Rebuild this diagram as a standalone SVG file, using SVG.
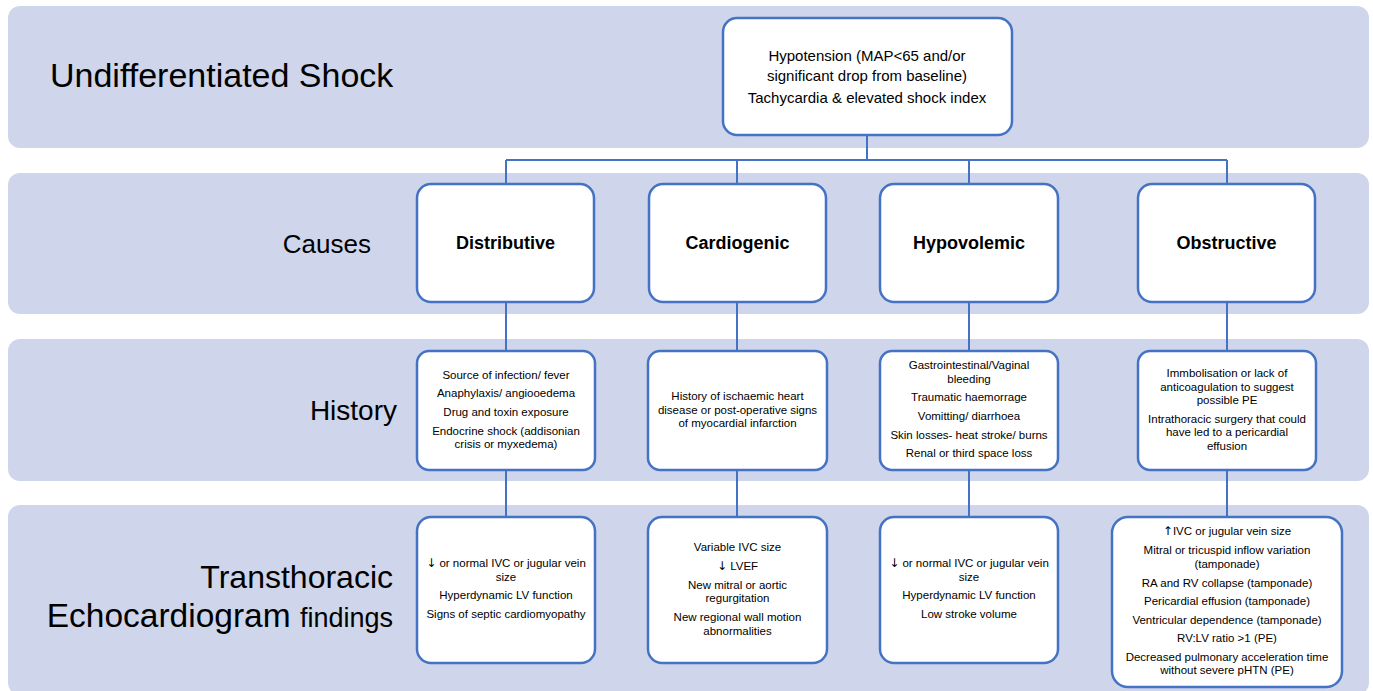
<svg xmlns="http://www.w3.org/2000/svg" width="1373" height="691" viewBox="0 0 1373 691">
<style>
.band{fill:#CFD5EA;}
.box{fill:#FFFFFF;stroke:#4472C4;stroke-width:2.5;}
.con{fill:none;stroke:#4472C4;stroke-width:2;}
.t{font-family:"Liberation Sans",Arial,sans-serif;fill:#000;text-anchor:middle;}
.s{font-size:11.5px;}
.m{font-size:15px;}
.b{font-size:18px;font-weight:bold;}
.ar{font-family:"DejaVu Sans",sans-serif;font-size:12px;}
.row{font-family:"Liberation Sans",Arial,sans-serif;fill:#000;}
</style>
<rect width="1373" height="691" fill="#FFFFFF"/>
<g id="bands">
<rect class="band" x="8" y="6" width="1361" height="142" rx="12"/>
<rect class="band" x="8" y="173" width="1361" height="141" rx="12"/>
<rect class="band" x="8" y="339" width="1361" height="142" rx="12"/>
<rect class="band" x="8" y="505" width="1361" height="190" rx="12"/>
</g>
<g id="row-labels">
<text class="row" x="50" y="87" font-size="34">Undifferentiated Shock</text>
<text class="row" x="371" y="253" font-size="26" text-anchor="end">Causes</text>
<text class="row" x="397" y="420" font-size="28" text-anchor="end">History</text>
<text class="row" x="393" y="588" font-size="32" text-anchor="end">Transthoracic</text>
<text class="row" x="393" y="627" font-size="33.5" text-anchor="end">Echocardiogram <tspan font-size="27">findings</tspan></text>
</g>
<g id="connectors">
<path class="con" d="M867 135 V160 M506 160 H1227 M506 160 V184 M737 160 V184 M969 160 V184 M1227 160 V184"/>
<path class="con" d="M506 302 V351 M737 302 V351 M969 302 V351 M1227 302 V351"/>
<path class="con" d="M506 470 V517 M737 470 V517 M969 470 V517 M1227 470 V517"/>
</g>
<g id="node-top">
<rect class="box" x="723" y="18" width="289" height="117" rx="14"/>
<text class="t m" x="867" y="61">Hypotension (MAP&lt;65 and/or</text>
<text class="t m" x="867" y="81">significant drop from baseline)</text>
<text class="t m" x="867" y="103">Tachycardia &amp; elevated shock index</text>
</g>
<g id="node-distributive">
<rect class="box" x="417" y="184" width="177" height="118" rx="14"/>
<text class="t b" x="505.5" y="249">Distributive</text>
</g>
<g id="node-cardiogenic">
<rect class="box" x="649" y="184" width="177" height="118" rx="14"/>
<text class="t b" x="737.5" y="249">Cardiogenic</text>
</g>
<g id="node-hypovolemic">
<rect class="box" x="880" y="184" width="178" height="118" rx="14"/>
<text class="t b" x="969" y="249">Hypovolemic</text>
</g>
<g id="node-obstructive">
<rect class="box" x="1138" y="184" width="177" height="118" rx="14"/>
<text class="t b" x="1226.5" y="249">Obstructive</text>
</g>
<g id="history-distributive">
<rect class="box" x="417" y="351" width="178" height="119" rx="12"/>
<text class="t s" x="506" y="379">Source of infection/ fever</text>
<text class="t s" x="506" y="397">Anaphylaxis/ angiooedema</text>
<text class="t s" x="506" y="416">Drug and toxin exposure</text>
<text class="t s" x="506" y="435">Endocrine shock (addisonian</text>
<text class="t s" x="506" y="448">crisis or myxedema)</text>
</g>
<g id="history-cardiogenic">
<rect class="box" x="648" y="351" width="179" height="119" rx="12"/>
<text class="t s" x="737.5" y="400">History of ischaemic heart</text>
<text class="t s" x="737.5" y="413.5">disease or post-operative signs</text>
<text class="t s" x="737.5" y="427">of myocardial infarction</text>
</g>
<g id="history-hypovolemic">
<rect class="box" x="880" y="351" width="178" height="119" rx="12"/>
<text class="t s" x="969" y="369">Gastrointestinal/Vaginal</text>
<text class="t s" x="969" y="382.5">bleeding</text>
<text class="t s" x="969" y="401">Traumatic haemorrage</text>
<text class="t s" x="969" y="420">Vomitting/ diarrhoea</text>
<text class="t s" x="969" y="438.5">Skin losses- heat stroke/ burns</text>
<text class="t s" x="969" y="457">Renal or third space loss</text>
</g>
<g id="history-obstructive">
<rect class="box" x="1138" y="351" width="178" height="119" rx="12"/>
<text class="t s" x="1227" y="377">Immbolisation or lack of</text>
<text class="t s" x="1227" y="390.5">anticoagulation to suggest</text>
<text class="t s" x="1227" y="404">possible PE</text>
<text class="t s" x="1227" y="422.5">Intrathoracic surgery that could</text>
<text class="t s" x="1227" y="436">have led to a pericardial</text>
<text class="t s" x="1227" y="449.5">effusion</text>
</g>
<g id="echo-distributive">
<rect class="box" x="417" y="517" width="178" height="146" rx="14"/>
<text class="t s" x="506" y="567"><tspan class="ar">↓</tspan> or normal IVC or jugular vein</text>
<text class="t s" x="506" y="580.5">size</text>
<text class="t s" x="506" y="599">Hyperdynamic LV function</text>
<text class="t s" x="506" y="618">Signs of septic cardiomyopathy</text>
</g>
<g id="echo-cardiogenic">
<rect class="box" x="648" y="517" width="179" height="146" rx="14"/>
<text class="t s" x="737.5" y="551">Variable IVC size</text>
<text class="t s" x="737.5" y="570"><tspan class="ar">↓</tspan> LVEF</text>
<text class="t s" x="737.5" y="588.5">New mitral or aortic</text>
<text class="t s" x="737.5" y="602">regurgitation</text>
<text class="t s" x="737.5" y="621">New regional wall motion</text>
<text class="t s" x="737.5" y="634.5">abnormalities</text>
</g>
<g id="echo-hypovolemic">
<rect class="box" x="880" y="517" width="178" height="146" rx="14"/>
<text class="t s" x="969" y="567"><tspan class="ar">↓</tspan> or normal IVC or jugular vein</text>
<text class="t s" x="969" y="580.5">size</text>
<text class="t s" x="969" y="599">Hyperdynamic LV function</text>
<text class="t s" x="969" y="618">Low stroke volume</text>
</g>
<g id="echo-obstructive">
<rect class="box" x="1112" y="517" width="230" height="170" rx="16"/>
<text class="t s" x="1227" y="535"><tspan class="ar">↑</tspan>IVC or  jugular vein size</text>
<text class="t s" x="1227" y="554">Mitral or tricuspid inflow variation</text>
<text class="t s" x="1227" y="567.5">(tamponade)</text>
<text class="t s" x="1227" y="586.5">RA and RV collapse (tamponade)</text>
<text class="t s" x="1227" y="605">Pericardial effusion (tamponade)</text>
<text class="t s" x="1227" y="623.5">Ventricular dependence (tamponade)</text>
<text class="t s" x="1227" y="642">RV:LV ratio &gt;1 (PE)</text>
<text class="t s" x="1227" y="660.5">Decreased pulmonary acceleration time</text>
<text class="t s" x="1227" y="674">without severe pHTN (PE)</text>
</g>
</svg>
